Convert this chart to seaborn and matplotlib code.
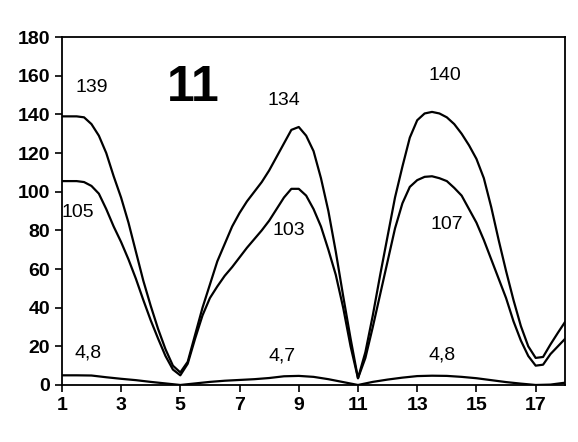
import matplotlib
matplotlib.use("Agg")
import matplotlib.pyplot as plt
import seaborn as sns
import pandas as pd

x_fine = [1.0, 1.25, 1.5, 1.75, 2.0, 2.25, 2.5, 2.75, 3.0, 3.25, 3.5, 3.75, 4.0, 4.25, 4.5, 4.75,
          5.0, 5.25, 5.5, 5.75, 6.0, 6.25, 6.5, 6.75, 7.0, 7.25, 7.5, 7.75, 8.0, 8.25, 8.5, 8.75,
          9.0, 9.25, 9.5, 9.75, 10.0, 10.25, 10.5, 10.75, 11.0, 11.25, 11.5, 11.75, 12.0, 12.25,
          12.5, 12.75, 13.0, 13.25, 13.5, 13.75, 14.0, 14.25, 14.5, 14.75, 15.0, 15.25, 15.5,
          15.75, 16.0, 16.25, 16.5, 16.75, 17.0, 17.25, 17.5, 17.75, 18.0]
upper = [139, 139, 139, 138.5, 135, 129, 120, 108, 97, 84, 69, 54, 41, 29, 18.5, 10,
         6.5, 12, 26, 40, 52, 64, 73, 82, 89, 95, 100, 105, 111, 118, 125, 132,
         133.5, 129, 121, 107, 90, 69, 46, 24, 3.5, 17, 36, 57, 77, 97,
         113, 128, 137, 140.5, 141.3, 140.5, 138.5, 135, 130, 124, 117, 107, 92,
         75, 59, 44, 30.5, 20, 14, 14.5, 21, 27, 32.8]
middle = [105.5, 105.5, 105.5, 105, 103, 99, 91, 82, 74, 65, 55, 44, 33.5, 24, 15, 8,
          5, 11, 24, 36, 45, 51, 56.5, 61, 66, 71, 75.5, 80, 85, 91, 97, 101.5,
          101.5, 98, 91, 82, 70, 57, 40, 20, 3.5, 14, 30, 47, 64, 81,
          94, 102.5, 106, 107.7, 108, 107, 105.5, 102, 98, 91, 84, 75, 65,
          55, 45, 33, 23, 15, 10, 10.5, 16, 20, 24]

x_half = [1.0, 1.5, 2.0, 2.5, 3.0, 3.5, 4.0, 4.5, 5.0, 5.5, 6.0, 6.5, 7.0, 7.5, 8.0, 8.5,
          9.0, 9.5, 10.0, 10.5, 11.0, 11.5, 12.0, 12.5, 13.0, 13.5, 14.0, 14.5, 15.0, 15.5,
          16.0, 16.5, 17.0, 17.5, 18.0]
lower = [5.0, 5.0, 4.9, 4.0, 3.2, 2.5, 1.6, 0.8, 0, 0.8, 1.6, 2.2, 2.6, 3.0, 3.6, 4.5,
         4.7, 4.2, 3.0, 1.5, 0, 1.6, 2.8, 3.8, 4.6, 4.8, 4.7, 4.2, 3.5, 2.5,
         1.5, 0.7, 0, 0.2, 1.2]

label_texts = ["139", "134", "140", "105", "103", "107", "4,8", "4,7", "4,8"]
label_x = [2.02, 8.5, 13.93, 1.55, 8.67, 14.0, 1.89, 8.42, 13.85]
label_y = [154, 147, 160, 89, 80, 83, 16.5, 15.2, 15.5]
panel_title = "11"

x_ticks = [1, 3, 5, 7, 9, 11, 13, 15, 17]
y_ticks = [0, 20, 40, 60, 80, 100, 120, 140, 160, 180]

sns.set_style("ticks")
plt.rcParams['font.family'] = ['Liberation Sans', 'DejaVu Sans']

df_up = pd.DataFrame({"x": x_fine, "y": upper})
df_mid = pd.DataFrame({"x": x_fine, "y": middle})
df_low = pd.DataFrame({"x": x_half, "y": lower})

fig = plt.figure(figsize=(5.78, 4.42), dpi=100)
ax = fig.add_axes([0.107, 0.129, 0.871, 0.787])
for d in (df_up, df_mid, df_low):
    sns.lineplot(data=d, x="x", y="y", color="black", linewidth=1.6,
                 estimator=None, sort=False, ax=ax)

for t, xx, yy in zip(label_texts, label_x, label_y):
    ax.text(xx, yy, t, ha="center", va="center", fontsize=14, color="black")
ax.text(5.43, 153.5, panel_title, ha="center", va="center", fontsize=36,
        fontweight="bold", color="black")

ax.set_xlim(1, 18)
ax.set_ylim(0, 180)
ax.set_xticks(x_ticks)
ax.set_yticks(y_ticks)
ax.set_xlabel("")
ax.set_ylabel("")
ax.tick_params(axis="both", labelsize=14, direction="out", length=5, width=1.2, colors="black")
for s in ax.spines.values():
    s.set_visible(True)
    s.set_linewidth(1.3)
    s.set_color("black")
for lab in ax.get_xticklabels() + ax.get_yticklabels():
    lab.set_fontweight("bold")

fig.savefig("out.png", dpi=100)
